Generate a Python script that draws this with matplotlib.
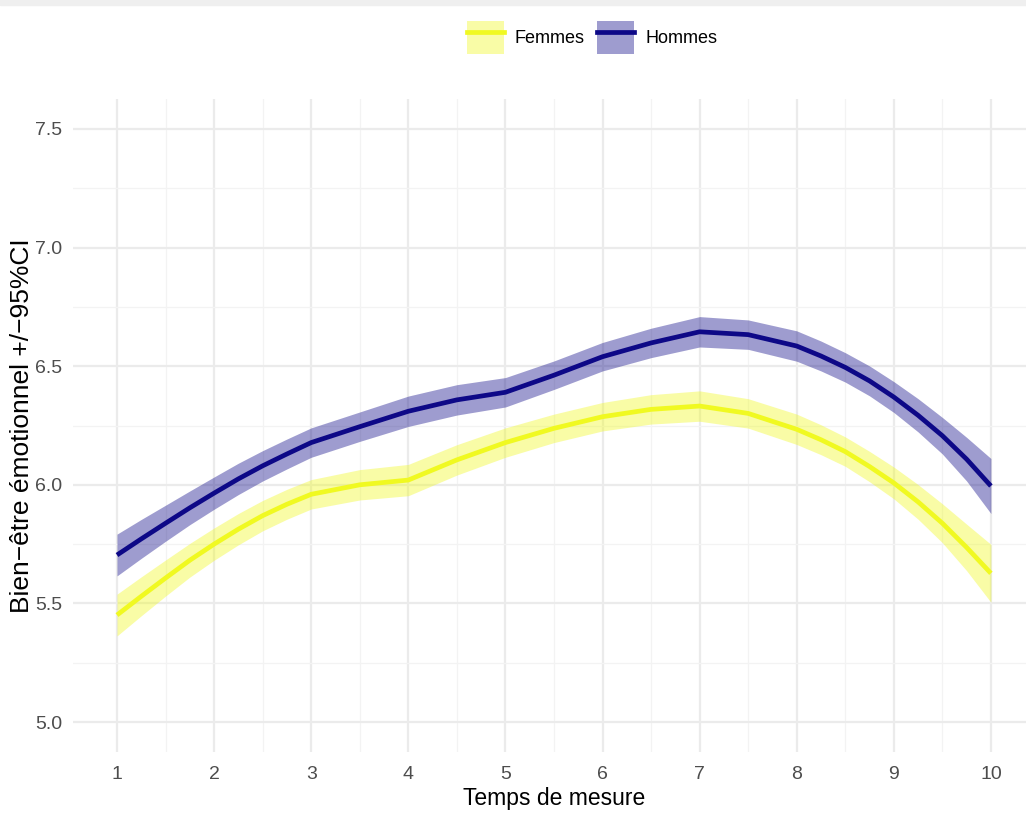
import matplotlib
matplotlib.use("Agg")
import matplotlib.pyplot as plt
from matplotlib.patches import Patch, Rectangle
from matplotlib.lines import Line2D
from matplotlib.legend_handler import HandlerTuple
from matplotlib.ticker import MultipleLocator

# Temps de mesure (smoothed curve, finer where it bends)
temps = [1.0, 1.25, 1.5, 1.75, 2.0, 2.25, 2.5, 2.75, 3.0, 3.5, 4.0, 4.5, 5.0,
         5.5, 6.0, 6.5, 7.0, 7.5, 8.0, 8.25, 8.5, 8.75, 9.0, 9.25, 9.5, 9.75, 10.0]

hommes = [5.704, 5.772, 5.838, 5.903, 5.965, 6.025, 6.08, 6.13, 6.178, 6.245, 6.31, 6.358, 6.39,
          6.462, 6.54, 6.598, 6.645, 6.633, 6.585, 6.543, 6.495, 6.438, 6.370, 6.293, 6.207, 6.108, 5.995]
hommes_ci = [0.088, 0.082, 0.076, 0.071, 0.068, 0.066, 0.064, 0.063, 0.062, 0.062, 0.064, 0.064, 0.062,
             0.060, 0.060, 0.062, 0.064, 0.062, 0.064, 0.063, 0.062, 0.063, 0.065, 0.070, 0.077, 0.092, 0.116]

femmes = [5.451, 5.53, 5.607, 5.682, 5.75, 5.813, 5.87, 5.918, 5.96, 6.00, 6.02, 6.105, 6.178,
          6.238, 6.287, 6.318, 6.332, 6.301, 6.234, 6.19, 6.14, 6.077, 6.008, 5.928, 5.838, 5.736, 5.627]
femmes_ci = [0.088, 0.082, 0.076, 0.071, 0.068, 0.066, 0.064, 0.063, 0.062, 0.064, 0.066, 0.064, 0.062,
             0.060, 0.060, 0.062, 0.064, 0.062, 0.064, 0.063, 0.062, 0.064, 0.067, 0.073, 0.082, 0.098, 0.122]

x_ticks = [1, 2, 3, 4, 5, 6, 7, 8, 9, 10]
y_ticks = [5.0, 5.5, 6.0, 6.5, 7.0, 7.5]

COL_F = "#F0F921"
COL_H = "#0D0887"

plt.rcParams["font.family"] = ["Liberation Sans", "DejaVu Sans"]

fig = plt.figure(figsize=(10.26, 8.17), dpi=100)
fig.patches.append(Rectangle((0, 1 - 5 / 817), 1, 5 / 817, transform=fig.transFigure,
                             color="#EFEFEF", zorder=0))

ax = fig.add_axes([73.3 / 1026, 65.3 / 817, 961.3 / 1026, 652.4 / 817])

series = [
    ("Femmes", femmes, femmes_ci, COL_F),
    ("Hommes", hommes, hommes_ci, COL_H),
]
handles = []
for name, vals, ci, col in series:
    lo = [v - c for v, c in zip(vals, ci)]
    hi = [v + c for v, c in zip(vals, ci)]
    ax.fill_between(temps, lo, hi, color=col, alpha=0.4, linewidth=0, zorder=2)
    ax.plot(temps, vals, color=col, lw=3.4, solid_capstyle="butt",
            solid_joinstyle="round", zorder=3)
    handles.append((Patch(facecolor=col, alpha=0.4, edgecolor="none"),
                    Line2D([], [], color=col, lw=3.4)))

ax.set_xlim(0.55, 10.45)
ax.set_ylim(4.875, 7.625)
ax.set_xticks(x_ticks)
ax.set_yticks(y_ticks)
ax.set_yticklabels([f"{v:.1f}" for v in y_ticks])
ax.xaxis.set_minor_locator(MultipleLocator(0.5))
ax.yaxis.set_minor_locator(MultipleLocator(0.25))
ax.grid(which="major", color="#EBEBEB", lw=1.6, zorder=0)
ax.grid(which="minor", color="#F3F3F3", lw=0.9, zorder=0)
ax.set_axisbelow(True)
for s in ax.spines.values():
    s.set_visible(False)
ax.tick_params(which="both", length=0)
ax.tick_params(axis="both", labelsize=14, labelcolor="#4D4D4D")
ax.tick_params(axis="x", pad=10)
ax.tick_params(axis="y", pad=8)

ax.set_xlabel("Temps de mesure", fontsize=16.5, labelpad=3)
ax.set_ylabel("Bien\u2212être émotionnel +/\u221295%CI", fontsize=19, labelpad=1)

fig.legend(handles, ["Femmes", "Hommes"], handler_map={tuple: HandlerTuple(ndivide=1)},
           loc="center", bbox_to_anchor=(592 / 1026, 1 - 37.5 / 817), ncol=2,
           frameon=False, fontsize=13, handlelength=2.05, handleheight=2.4,
           handletextpad=0.6, columnspacing=0.7)

fig.savefig("out.png", dpi=100, facecolor="white")
